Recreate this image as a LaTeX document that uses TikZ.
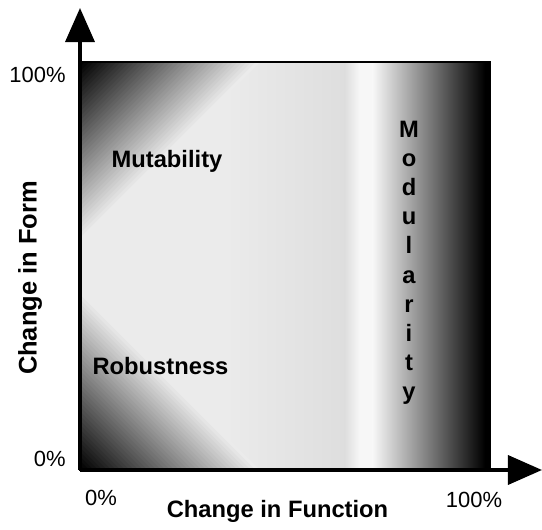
\documentclass[tikz,border=0pt]{standalone}
\usepackage{fontspec}
\setmainfont{Liberation Sans}
\usetikzlibrary{arrows.meta}

\begin{document}
\begin{tikzpicture}[lbl/.style={font=\fontsize{13.5}{16}\selectfont\bfseries,inner sep=0pt},
                    pct/.style={font=\fontsize{12.5}{15}\selectfont,inner sep=0pt},
                    axis/.style={line width=2pt,-{Triangle[length=0.68cm,width=0.58cm]}}]
        \useasboundingbox (0,0) rectangle (10.84,10.58);
        \coordinate (O) at (1.6,1.18);
        \coordinate (TL) at (1.6,9.34);
        \coordinate (TR) at (9.8,9.34);
        \coordinate (BR) at (9.8,1.18);
        \coordinate (ytip) at (1.6,10.42);
        \coordinate (xtip) at (10.84,1.18);
        % shaded field
        \begin{scope}
            \clip (O) rectangle (TR);
            \fill[black!8] (O) rectangle (TR);
            \shade[left color=black!8,right color=black!13] (4.6,1.18) rectangle (6.9,9.34);
            \foreach \k [evaluate=\k as \r using 3.6-0.09*\k, evaluate=\k as \g using 8+2.35*\k] in {0,...,39} {
                \fill[black!\g] (TL) -- ++(\r,0) -- ++(-\r,-\r) -- cycle;
                \fill[black!\g] (O) -- ++(\r,0) -- ++(-\r,\r) -- cycle;
            }
            \shade[left color=black!13,right color=black!3] (6.9,1.18) rectangle (7.2,9.34);
            \fill[black!3] (7.2,1.18) rectangle (7.45,9.34);
            \shade[left color=black!3,right color=black] (7.45,1.18) rectangle (9.7,9.34);
            \fill[black] (9.7,1.18) rectangle (BR |- TR);
        \end{scope}
        \draw[line width=1.1pt] (O) rectangle (TR);
        \draw[axis] (O) -- (ytip);
        \draw[axis] (O) -- (xtip);
        \node [pct,anchor=east] (f100) at (1.32,9.08) {100\%};
        \node [pct,anchor=east] (f0) at (1.32,1.40) {0\%};
        \node [pct] (u0) at (2.02,0.62) {0\%};
        \node [pct] (u100) at (9.48,0.58) {100\%};
        \node [lbl] (fn) at (5.55,0.36) {Change in Function};
        \node [lbl,font=\fontsize{14.5}{17}\selectfont\bfseries,rotate=90] (fm) at (0.6,5.02) {Change in Form};
        \node [lbl] (mut) at (3.34,7.35) {Mutability};
        \node [lbl] (rob) at (3.21,3.25) {Robustness};
        \foreach \ch [count=\k from 0] in {M,o,d,u,l,a,r,i,t,y}
            \node [lbl,anchor=base] (mod\k) at (8.18,7.84-0.584*\k) {\ch};
    \end{tikzpicture}
\end{document}
